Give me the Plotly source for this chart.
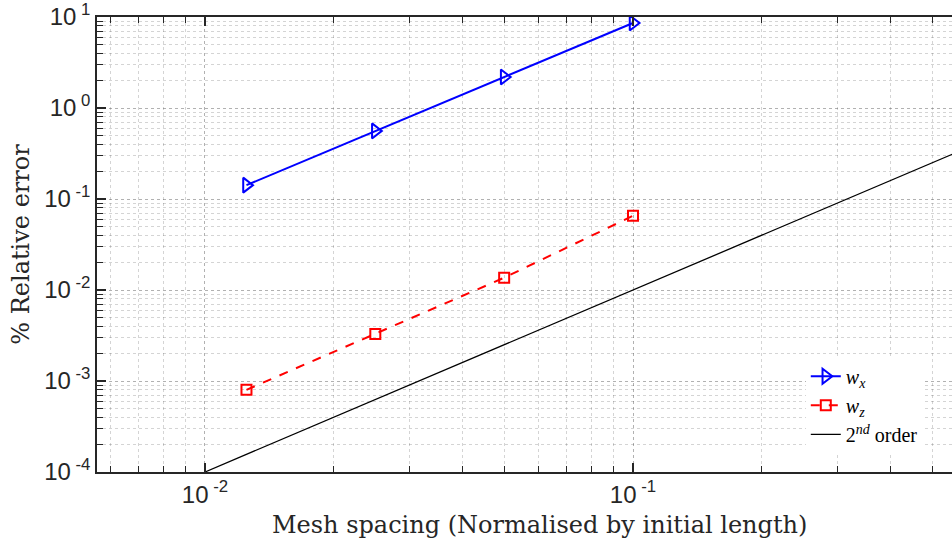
import plotly.graph_objects as go

# data
h = [0.0125, 0.025, 0.05, 0.1]
err_wx = [0.142, 0.56, 2.19, 8.6]
err_wz = [0.00080, 0.00329, 0.01364, 0.0654]
order_x = [0.01, 1.0]
order_y = [1e-4, 1.0]

x_tickvals = [1e-2, 1e-1]
x_ticktext = ["10<sup> -2</sup>", "10<sup> -1</sup>"]
y_tickvals = [1e-4, 1e-3, 1e-2, 1e-1, 1e0, 1e1]
y_ticktext = ["10<sup> -4</sup>", "10<sup> -3</sup>", "10<sup> -2</sup>",
              "10<sup> -1</sup>", "10<sup> 0</sup>", "10<sup> 1</sup>"]
x_title = "Mesh spacing (Normalised by initial length)"
y_title = "% Relative error"

axcol = "#262626"
gridcol = "rgba(38,38,38,0.2)"
serif = "DejaVu Serif"
sans = "Liberation Sans"

fig = go.Figure()
fig.add_trace(go.Scatter(
    x=h, y=err_wx, mode="lines+markers", name="<i>w</i><sub><i>x</i></sub>",
    line=dict(color="rgb(0,0,255)", width=2),
    marker=dict(symbol="triangle-right-open", size=13, color="rgb(0,0,255)",
                line=dict(width=2, color="rgb(0,0,255)")),
))
fig.add_trace(go.Scatter(
    x=h, y=err_wz, mode="lines+markers", name="<i>w</i><sub><i>z</i></sub>",
    line=dict(color="rgb(255,0,0)", width=2, dash="dash"),
    marker=dict(symbol="square-open", size=10, color="rgb(255,0,0)",
                line=dict(width=2, color="rgb(255,0,0)")),
))
fig.add_trace(go.Scatter(
    x=order_x, y=order_y, mode="lines", name="2<sup><i>nd</i></sup> order",
    line=dict(color="black", width=1.3),
))

fig.update_layout(
    width=952, height=549,
    margin=dict(l=97, r=0, t=17, b=77),
    plot_bgcolor="white", paper_bgcolor="white",
    showlegend=True,
    legend=dict(
        x=0.829, y=0.04, xanchor="left", yanchor="bottom",
        bgcolor="white", borderwidth=0,
        font=dict(family="Liberation Serif", size=20, color="black"),
        itemwidth=30, tracegroupgap=0,
    ),
    annotations=[dict(
        text=x_title, xref="paper", yref="paper", x=0.518, y=0,
        xanchor="center", yanchor="middle", yshift=-53, showarrow=False,
        font=dict(family=serif, size=24, color="#262626"),
    )],
)

fig.update_xaxes(
    type="log", range=[-2.2523, -0.2547],
    tickvals=x_tickvals, ticktext=x_ticktext,
    tickfont=dict(family=sans, size=24, color=axcol),
    ticks="inside", ticklen=9, tickwidth=1.5, tickcolor=axcol,
    showline=True, linecolor=axcol, linewidth=1.5, mirror="ticks",
    showgrid=True, gridcolor=gridcol, griddash="dot", gridwidth=1,
    minor=dict(dtick="D1", ticks="inside", ticklen=6, tickwidth=1.2, tickcolor=axcol,
               showgrid=True, gridcolor=gridcol, griddash="dot", gridwidth=1),
    zeroline=False,
)
fig.update_yaxes(
    type="log", range=[-4, 1],
    tickvals=y_tickvals, ticktext=y_ticktext,
    tickfont=dict(family=sans, size=24, color=axcol),
    ticks="inside", ticklen=9, tickwidth=1.5, tickcolor=axcol,
    showline=True, linecolor=axcol, linewidth=1.5, mirror=False,
    showgrid=True, gridcolor=gridcol, griddash="dot", gridwidth=1,
    minor=dict(dtick="D1", ticks="inside", ticklen=6, tickwidth=1.2, tickcolor=axcol,
               showgrid=True, gridcolor=gridcol, griddash="dot", gridwidth=1),
    zeroline=False,
    title=dict(text=y_title,
               font=dict(family=serif, size=24, color="#262626"), standoff=8),
)

fig.write_html("out.html")
